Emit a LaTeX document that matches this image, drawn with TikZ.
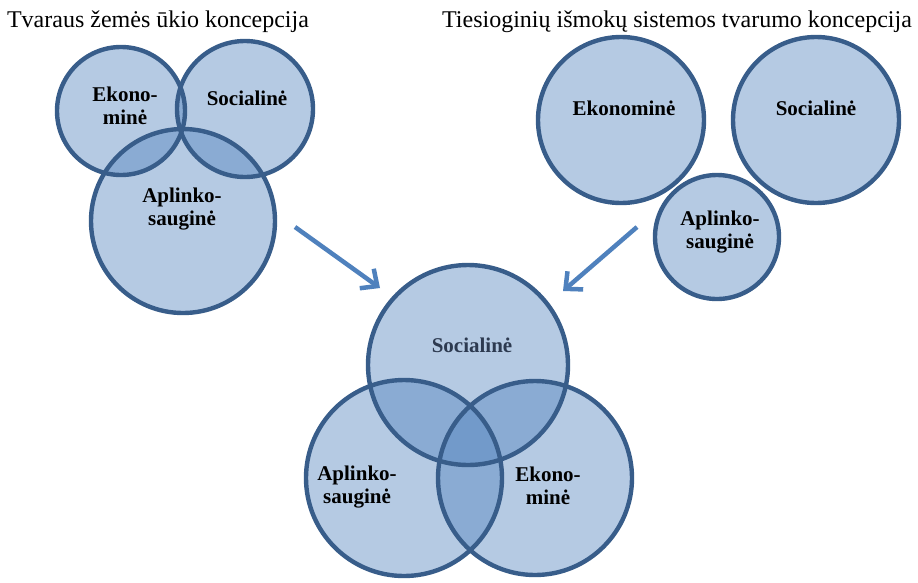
\documentclass[tikz,border=0pt]{standalone}
\usepackage{fontspec}
\setmainfont{Liberation Serif}
\usetikzlibrary{arrows.meta}
\definecolor{ringfill}{RGB}{79,129,189}
\definecolor{ringline}{RGB}{56,93,138}
\definecolor{arrowblue}{RGB}{79,129,189}
\definecolor{labelslate}{RGB}{45,58,80}
\tikzset{
  disc/.style={circle, inner sep=0pt, minimum size=#1, fill=ringfill, fill opacity=0.42},
  rim/.style={draw=ringline, line width=4.4pt},
  tag/.style={font=\fontsize{21}{23}\selectfont\bfseries, align=center},
  heading/.style={font=\fontsize{24}{28}\selectfont, anchor=base},
  bigarrow/.style={draw=arrowblue, line width=4.5pt, -{Straight Barb[length=13pt,width=24pt]}}
}
\begin{document}
\begin{tikzpicture}[x=1pt,y=-1pt]
    \useasboundingbox (0,0) rectangle (918,582);
    % headings
    \node[heading] (titleA) at (158,27) {Tvaraus žemės ūkio koncepcija};
    \node[heading] (titleB) at (677,27) {Tiesioginių išmokų sistemos tvarumo koncepcija};
    % left group
    \node[disc=128pt] (ekoA) at (121,111) {};
    \node[disc=136pt] (socA) at (245,109) {};
    \node[disc=184pt] (aplA) at (183,221) {};
    % right group
    \node[disc=166pt] (ekoB) at (621,120) {};
    \node[disc=166pt] (socB) at (816,120) {};
    \node[disc=124pt] (aplB) at (717,237) {};
    % merged group
    \node[disc=200pt] (socC) at (468,365) {};
    \node[disc=196pt] (aplC) at (404,478) {};
    \node[disc=194pt] (ekoC) at (535,478) {};
    % outlines on top
    \draw[rim] (ekoA.center) circle[radius=64pt];
    \draw[rim] (socA.center) circle[radius=68pt];
    \draw[rim] (aplA.center) circle[radius=92pt];
    \draw[rim] (ekoB.center) circle[radius=83pt];
    \draw[rim] (socB.center) circle[radius=83pt];
    \draw[rim] (aplB.center) circle[radius=62pt];
    \draw[rim] (socC.center) circle[radius=100pt];
    \draw[rim] (aplC.center) circle[radius=98pt];
    \draw[rim] (ekoC.center) circle[radius=97pt];
    % labels
    \node[tag] (ekoAtxt) at (125,106) {Ekono-\\minė};
    \node[tag] (socAtxt) at (247,98) {Socialinė};
    \node[tag] (aplAtxt) at (182,209) {Aplinko-\\sauginė};
    \node[tag] (ekoBtxt) at (624,108) {Ekonominė};
    \node[tag] (socBtxt) at (816,108) {Socialinė};
    \node[tag] (aplBtxt) at (720,232) {Aplinko-\\sauginė};
    \node[tag, text=labelslate] (socCtxt) at (472,345) {Socialinė};
    \node[tag] (aplCtxt) at (357,487) {Aplinko-\\sauginė};
    \node[tag] (ekoCtxt) at (548,486) {Ekono-\\minė};
    % arrows
    \coordinate (arrAs) at (295,227);
    \coordinate (arrAe) at (380,288);
    \coordinate (arrBs) at (637,227);
    \coordinate (arrBe) at (563,291);
    \draw[bigarrow] (arrAs) -- (arrAe);
    \draw[bigarrow] (arrBs) -- (arrBe);
\end{tikzpicture}
\end{document}
